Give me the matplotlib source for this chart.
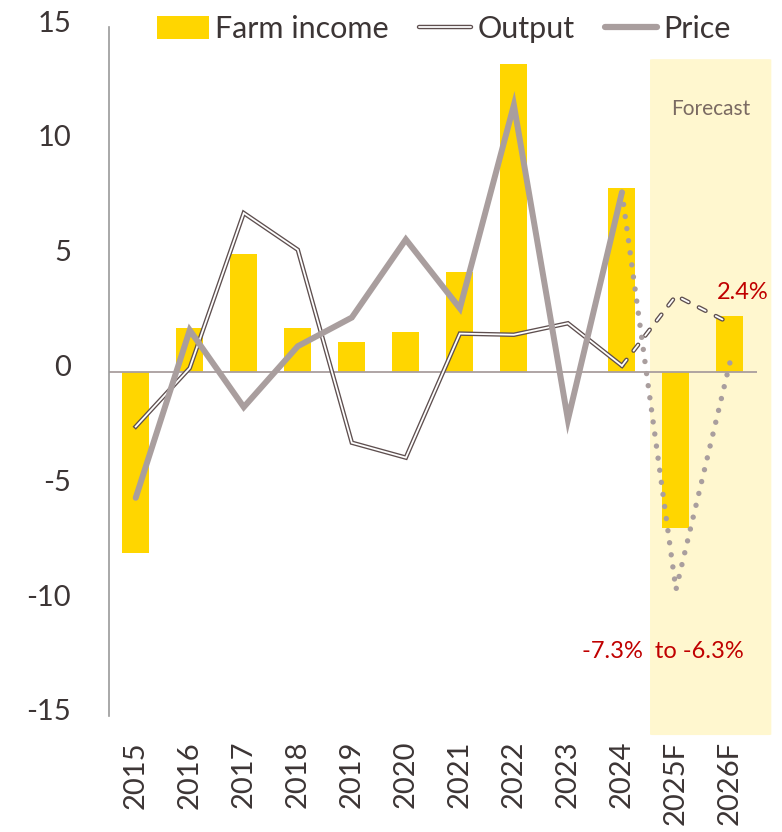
import matplotlib
matplotlib.use("Agg")
import matplotlib.pyplot as plt
import matplotlib.transforms as mtransforms
from matplotlib.lines import Line2D
from matplotlib.patches import Patch, FancyBboxPatch
from matplotlib.legend_handler import HandlerTuple

# ---- data ----
years = ["2015", "2016", "2017", "2018", "2019", "2020", "2021", "2022",
         "2023", "2024", "2025F", "2026F"]
farm_income = [-7.9, 1.9, 5.1, 1.9, 1.3, 1.7, 4.35, 13.4, 0.0, 8.0, -6.8, 2.4]
output = [-2.4, 0.15, 6.9, 5.3, -3.1, -3.75, 1.65, 1.6, 2.1, 0.25, 3.3, 2.1]
price = [-5.5, 1.8, -1.55, 1.1, 2.35, 5.75, 2.75, 11.6, -2.1, 7.8, -9.5, 0.4]
n_hist = 10  # 2015..2024 actual, rest forecast

YELLOW = "#FFD600"
GRAY = "#A99E9E"
DARK = "#5E4F4F"
TXT = "#3C3535"
RED = "#C00000"

plt.rcParams["font.family"] = ["Lato", "DejaVu Sans"]

W, H = 782, 832
fig = plt.figure(figsize=(W / 100, H / 100), dpi=100)
ax = fig.add_axes([108.7 / W, (H - 716) / H, (757 - 108.7) / W, 689 / H])

x = list(range(len(years)))
ax.set_xlim(-0.5, 11.5)
ax.set_ylim(-15, 15)

# forecast shading
rect = FancyBboxPatch((9.52, -15.83), 11.765 - 9.52, 13.6 + 15.83,
                      boxstyle="round,pad=0,rounding_size=0.06",
                      mutation_aspect=23 / 54,
                      facecolor="#FFF7CF", edgecolor="none",
                      transform=ax.transData, clip_on=False, zorder=0)
ax.add_patch(rect)

# bars
ax.bar(x, farm_income, width=0.5, color=YELLOW, zorder=2)
ax.axhline(0, color=GRAY, lw=1.3, zorder=2.5)

# output (double line)
LW_O, LW_I = 3.2, 1.3
xh = x[:n_hist]
ax.plot(xh, output[:n_hist], color=DARK, lw=LW_O, solid_joinstyle="miter", zorder=3)
ax.plot(xh, output[:n_hist], color="white", lw=LW_I, solid_joinstyle="miter", zorder=3.1)
xf = x[n_hist - 1:]
on, off = 5.4, 8.3
ax.plot(xf, output[n_hist - 1:], color=DARK, lw=LW_O,
        linestyle=(0, (on / LW_O, off / LW_O)), dash_capstyle="round", zorder=3)
ax.plot(xf, output[n_hist - 1:], color="white", lw=LW_I,
        linestyle=(0, (on / LW_I, off / LW_I)), dash_capstyle="round", zorder=3.1)

# price
ax.plot(xh, price[:n_hist], color=GRAY, lw=4.3, solid_joinstyle="miter",
        solid_capstyle="round", zorder=4)
ax.plot(xf, price[n_hist - 1:], color=GRAY, lw=3.9,
        linestyle=(0, (0.001, 2.25)), dash_capstyle="round", zorder=4)

# axes styling
for s in ["top", "right", "bottom"]:
    ax.spines[s].set_visible(False)
ax.spines["left"].set_color("#9A9A9A")
ax.spines["left"].set_linewidth(1.2)
ax.set_yticks([-15, -10, -5, 0, 5, 10, 15])
ax.set_yticklabels(["-15", "-10", "-5", "0", "5", "10", "15"])
ax.set_xticks(x)
ax.set_xticklabels(years, rotation=90)
ax.tick_params(axis="y", length=0, pad=27, labelsize=21, labelcolor=TXT)
ax.tick_params(axis="x", length=0, pad=18, labelsize=21, labelcolor=TXT)
up = mtransforms.ScaledTranslation(0, 6 / 100, fig.dpi_scale_trans)
for lab in ax.get_yticklabels():
    lab.set_transform(lab.get_transform() + up)
for lab in ax.get_xticklabels():
    lab.set_verticalalignment("top")

# annotations
ax.text(10.65, 11.43, "Forecast", color="#7A6A62", fontsize=15,
        ha="center", va="center", zorder=5)
ax.text(11.23, 3.43, "2.4%", color=RED, fontsize=17, ha="center", va="center", zorder=5)
ax.text(9.755, -12.2, "-7.3%  to -6.3%", color=RED, fontsize=17,
        ha="center", va="center", zorder=5)

# legend
h_bar = Patch(facecolor=YELLOW, edgecolor="none")
h_out = (Line2D([], [], color=DARK, lw=LW_O, solid_capstyle="round"),
         Line2D([], [], color="white", lw=LW_I, solid_capstyle="round"))
h_price = Line2D([], [], color=GRAY, lw=4.5, solid_capstyle="round")
leg = fig.legend([h_bar, h_out, h_price], ["Farm income", "Output", "Price"],
                 handler_map={tuple: HandlerTuple(ndivide=1, pad=0)},
                 loc="center left", bbox_to_anchor=(157 / W, 1 - 29 / H),
                 ncol=3, frameon=False, fontsize=22, borderpad=0, borderaxespad=0,
                 handlelength=1.7, handleheight=0.78, handletextpad=0.2,
                 columnspacing=1.0, labelcolor=TXT)

fig.savefig("out.png", dpi=100)
